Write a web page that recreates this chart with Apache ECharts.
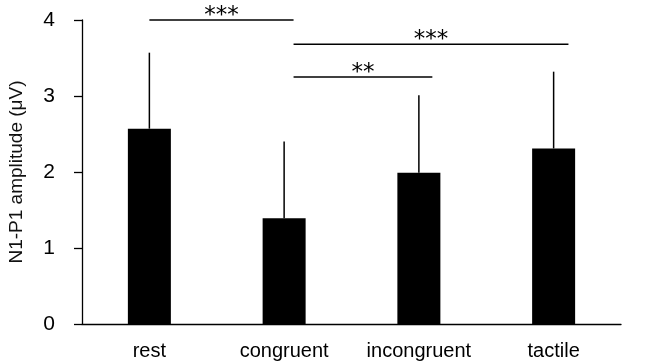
<!DOCTYPE html>
<html><head><meta charset="utf-8">
<script src="https://cdn.jsdelivr.net/npm/echarts@6/dist/echarts.min.js"></script>
<style>html,body{margin:0;padding:0;background:#fff}#c{width:646px;height:363px}</style>
</head><body><div id="c"></div>
<script>
const categories = ['rest', 'congruent', 'incongruent', 'tactile'];
const means = [2.57, 1.39, 1.99, 2.31];
const sds = [1.0, 1.01, 1.02, 1.01];
const bracketFrom = [0, 1.07, 1.07];
const bracketTo = [1.07, 3.11, 2.1];
const bracketY = [4.0, 3.68, 3.25];
const bracketLabel = ['***', '***', '**'];

const chart = echarts.init(document.getElementById('c'), null, {renderer: 'canvas'});
const font = 'Arial, "Liberation Sans", sans-serif';
chart.setOption({
  animation: false,
  backgroundColor: '#fff',
  grid: {left: 82, right: 25, top: 20, bottom: 39, containLabel: false, outerBoundsMode: 'none'},
  xAxis: [{
    type: 'category', data: categories,
    axisLine: {lineStyle: {color: '#000', width: 1.3}},
    axisTick: {show: false},
    axisLabel: {color: '#000', fontSize: 20, fontFamily: font, margin: 17, interval: 0}
  }, {
    type: 'value', min: -0.5, max: 3.5, show: false
  }],
  yAxis: {
    type: 'value', min: 0, max: 4, interval: 1,
    name: 'N1-P1 amplitude (μV)', nameLocation: 'middle', nameGap: 56,
    nameTextStyle: {color: '#111', fontSize: 19, fontFamily: font},
    axisLine: {show: true, onZero: false, lineStyle: {color: '#000', width: 1.3}},
    axisTick: {show: true, inside: false, length: 8, lineStyle: {color: '#000', width: 1.3}},
    axisLabel: {color: '#000', fontSize: 21, fontFamily: font, margin: 27},
    splitLine: {show: false}
  },
  series: [{
    type: 'bar', data: means, barWidth: 43,
    itemStyle: {color: '#000'}, z: 2
  }, {
    type: 'custom', xAxisIndex: 0, z: 3,
    data: means.map((m, i) => [i, m, m + sds[i]]),
    renderItem: function (params, api) {
      const p0 = api.coord([api.value(0), api.value(1)]);
      const p1 = api.coord([api.value(0), api.value(2)]);
      return {type: 'line', shape: {x1: p0[0], y1: p0[1], x2: p1[0], y2: p1[1]},
        style: {stroke: '#000', lineWidth: 1.5}};
    }
  }, {
    type: 'custom', xAxisIndex: 1, z: 3,
    data: bracketFrom.map((f, i) => [f, bracketTo[i], bracketY[i], i]),
    renderItem: function (params, api) {
      const a = api.coord([api.value(0), api.value(2)]);
      const b = api.coord([api.value(1), api.value(2)]);
      const lbl = bracketLabel[api.value(3)];
      return {type: 'group', children: [
        {type: 'line', shape: {x1: a[0], y1: a[1], x2: b[0], y2: b[1]},
          style: {stroke: '#000', lineWidth: 1.5}},
        {type: 'text', x: (a[0] + b[0]) / 2, y: a[1] - 4,
          style: {text: lbl, fill: '#000', font: '23px "DejaVu Sans"', align: 'center', verticalAlign: 'middle'}}
      ]};
    }
  }]
});
</script></body></html>
